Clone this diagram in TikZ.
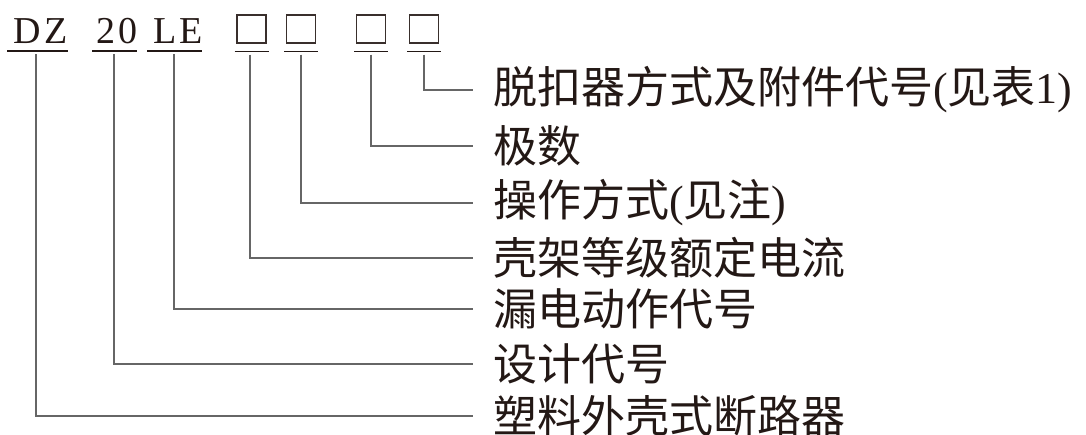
\documentclass[tikz,border=0pt]{standalone}
\usepackage{fontspec}
\setmainfont{Liberation Serif}
\newfontfamily\cjk{Noto Sans CJK SC}
\newfontfamily\lat{Liberation Serif}
\newfontfamily\spaced[LetterSpace=9]{Liberation Serif}
\definecolor{ink}{HTML}{231815}
\definecolor{wire}{HTML}{666666}
\begin{document}
\begin{tikzpicture}[x=1pt,y=-1pt,
  code/.style={inner sep=0pt, anchor=base, font=\spaced\fontsize{38}{38}\selectfont, text=ink},
  sq/.style={draw=ink!90, line width=1.3pt, minimum width=29pt, minimum height=28pt, inner sep=0pt},
  lab/.style={anchor=west, inner xsep=20pt, inner ysep=0pt, font=\cjk\fontsize{44}{44}\selectfont, text=ink},
  uline/.style={draw=ink, line width=1.4pt},
  conn/.style={draw=wire, line width=1.2pt}]
\useasboundingbox (0,0) rectangle (1086,434);
% code parts
\node[code] (dz) at (41,43) {DZ};
\node[code] (n20) at (117,43) {20};
\node[code] (le) at (178,43) {LE};
\node[sq] (b1) at (251.5,29) {};
\node[sq] (b2) at (301,29) {};
\node[sq] (b3) at (371,29) {};
\node[sq] (b4) at (424,29) {};
% underlines
\draw[uline] ([shift={(-34,8)}]dz.base) -- ([shift={(27,8)}]dz.base);
\draw[uline] ([shift={(-25,8)}]n20.base) -- ([shift={(20,8)}]n20.base);
\draw[uline] ([shift={(-31,8)}]le.base) -- ([shift={(24,8)}]le.base);
\foreach \b in {b1,b2,b3,b4}
  \draw[uline] ([shift={(-17,8)}]\b.south) -- ([shift={(17,8)}]\b.south);
% labels
\node[lab] (l1) at (473,90)  {脱扣器方式及附件代号{\lat(}见表{\lat 1)}};
\node[lab] (l2) at (473,146) {极数};
\node[lab] (l3) at (473,203) {操作方式{\lat(}见注{\lat)}};
\node[lab] (l4) at (473,258) {壳架等级额定电流};
\node[lab] (l5) at (473,309) {漏电动作代号};
\node[lab] (l6) at (473,364) {设计代号};
\node[lab] (l7) at (473,416) {塑料外壳式断路器};
% connectors
\draw[conn] ([shift={(0,11)}]b4.south) |- (l1.west);
\draw[conn] ([shift={(0,11)}]b3.south) |- (l2.west);
\draw[conn] ([shift={(0,11)}]b2.south) |- (l3.west);
\draw[conn] ([shift={(-1.5,11)}]b1.south) |- (l4.west);
\draw[conn] ([shift={(-4,11)}]le.base) |- (l5.west);
\draw[conn] ([shift={(-3,11)}]n20.base) |- (l6.west);
\draw[conn] ([shift={(-5,11)}]dz.base) |- (l7.west);
\end{tikzpicture}
\end{document}
